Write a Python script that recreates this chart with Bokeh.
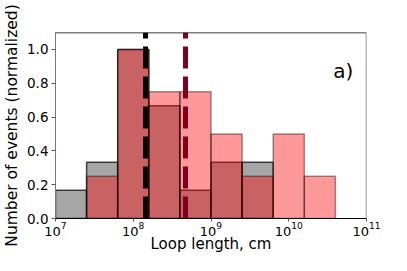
from bokeh.plotting import figure
from bokeh.models import Range1d, FixedTicker, Label, Span, ColumnDataSource, NumeralTickFormatter
from bokeh.embed import file_html
from bokeh.resources import INLINE

# ---- data ----
bin_left = [1.0e7, 2.512e7, 6.310e7, 1.585e8, 3.981e8, 1.0e9, 2.512e9, 6.310e9, 1.585e10]
bin_right = [2.512e7, 6.310e7, 1.585e8, 3.981e8, 1.0e9, 2.512e9, 6.310e9, 1.585e10, 3.981e10]
gray_vals = [0.167, 0.333, 1.0, 0.667, 0.167, 0.333, 0.333, 0.0, 0.0]
red_vals = [0.0, 0.25, 1.0, 0.75, 0.75, 0.5, 0.25, 0.5, 0.25]
median_black = 1.44e8
median_red = 4.7e8
x_ticks = [1e7, 1e8, 1e9, 1e10, 1e11]
y_ticks = [0.0, 0.2, 0.4, 0.6, 0.8, 1.0]
x_title = "Loop length, cm"
y_title = "Number of events (normalized)"
panel_tag = "a)"

FONT = "DejaVu Sans"

p = figure(width=391, height=255, x_axis_type="log",
           x_range=Range1d(1e7, 1e11), y_range=Range1d(0, 1.1),
           output_backend="svg", toolbar_location=None,
           min_border_left=51, min_border_right=25, min_border_top=32, min_border_bottom=30)
p.grid.visible = False
p.outline_line_color = None
p.background_fill_color = "white"

def bars(vals):
    idx = [i for i, v in enumerate(vals) if v > 0]
    return ColumnDataSource(dict(left=[bin_left[i] for i in idx], right=[bin_right[i] for i in idx],
                                 top=[vals[i] for i in idx], bottom=[0] * len(idx)))

p.quad(left="left", right="right", top="top", bottom="bottom", source=bars(gray_vals),
       fill_color="gray", fill_alpha=0.7, line_color="black", line_alpha=0.7, line_width=1.5)
p.quad(left="left", right="right", top="top", bottom="bottom", source=bars(red_vals),
       fill_color="red", fill_alpha=0.4, line_color="black", line_alpha=0.4, line_width=1.5)

p.segment(x0=[median_black], y0=[0], x1=[median_black], y1=[1.1],
          line_color="black", line_width=5, line_dash="22 8")
p.segment(x0=[median_red], y0=[0], x1=[median_red], y1=[1.1],
          line_color="#80001f", line_width=5, line_dash="22 8")

# frame edges (top black, right grey)
p.add_layout(Span(location=1.1, dimension="width", line_color="black", line_width=1.5))
p.add_layout(Span(location=1e11, dimension="height", line_color="#777777", line_width=1.5))

p.add_layout(Label(x=10**10.83, y=0.87, text=panel_tag, text_font=FONT, text_font_size="20px",
                   text_align="right", text_baseline="alphabetic", text_color="black"))

# axes
xa = p.xaxis[0]
xa.ticker = FixedTicker(ticks=x_ticks)
ya = p.yaxis[0]
ya.ticker = FixedTicker(ticks=y_ticks)
ya.formatter = NumeralTickFormatter(format="0.0")
for ax in (xa, ya):
    ax.major_tick_in = 0
    ax.minor_tick_out = 0
    ax.minor_tick_in = 0
    ax.major_tick_line_color = "#555555"
    ax.major_label_text_font = FONT
    ax.major_label_text_font_size = "13.5px"
    ax.major_label_text_color = "black"
    ax.axis_label_text_font = FONT
    ax.axis_label_text_font_size = "15.5px"
    ax.axis_label_text_font_style = "normal"
    ax.axis_label_text_color = "black"
xa.axis_label = x_title
ya.axis_label = y_title
xa.major_tick_out = 3
xa.major_label_standoff = 0
xa.major_label_text_font_size = "13px"
xa.axis_label_text_font_size = "15px"
xa.axis_label_standoff = -4
ya.major_tick_out = 4
ya.major_label_standoff = 3
ya.axis_label_standoff = 3
xa.axis_line_color = "black"
ya.axis_line_color = "#777777"

open("out.html", "w").write(file_html(p, INLINE))
